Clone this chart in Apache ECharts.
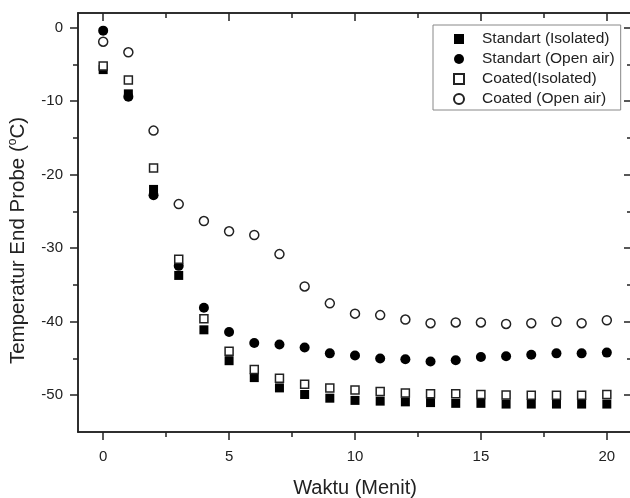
<!DOCTYPE html>
<html>
<head>
<meta charset="utf-8">
<script src="https://cdn.jsdelivr.net/npm/echarts@6/dist/echarts.min.js"></script>
<style>
  html, body { margin: 0; padding: 0; background: #fff; }
  #chart { width: 630px; height: 498px; }
</style>
</head>
<body>
<div id="chart"></div>
<script>
// time (minutes)
const waktu = [0, 1, 2, 3, 4, 5, 6, 7, 8, 9, 10, 11, 12, 13, 14, 15, 16, 17, 18, 19, 20];

const standartIsolated = [-5.7, -9.0, -22.0, -33.7, -41.1, -45.3, -47.6, -49.0, -49.9, -50.4, -50.7, -50.8, -50.9, -51.0, -51.1, -51.1, -51.2, -51.2, -51.2, -51.2, -51.2];
const standartOpenAir = [-0.4, -9.4, -22.8, -32.4, -38.1, -41.4, -42.9, -43.1, -43.5, -44.3, -44.6, -45.0, -45.1, -45.4, -45.25, -44.8, -44.7, -44.5, -44.3, -44.3, -44.2];
const coatedIsolated = [-5.2, -7.1, -19.1, -31.5, -39.6, -44.0, -46.5, -47.7, -48.5, -49.0, -49.3, -49.5, -49.7, -49.8, -49.8, -49.9, -49.95, -50.0, -50.0, -50.0, -49.9];
const coatedOpenAir = [-1.9, -3.35, -14.0, -24.0, -26.3, -27.7, -28.2, -30.8, -35.2, -37.5, -38.9, -39.1, -39.7, -40.2, -40.1, -40.1, -40.3, -40.2, -40.0, -40.2, -39.8];

const xMajor = [0, 5, 10, 15, 20];
const xMinor = [2.5, 7.5, 12.5, 17.5];
const yMajor = [-50, -40, -30, -20, -10, 0];
const yMinor = [-45, -35, -25, -15, -5];

const FONT = 'Liberation Sans, Arial, sans-serif';
const INK = '#222';
const line = { color: INK, width: 1.5 };

const pairs = ys => waktu.map((x, i) => [x, ys[i]]);

function xAx(pos, ticks, len, inside, extra) {
  return Object.assign({
    type: 'value', position: pos, min: -1, max: 21,
    axisLine: { show: true, onZero: false, lineStyle: line },
    axisTick: { show: true, inside: inside, length: len, customValues: ticks, lineStyle: line },
    axisLabel: { show: false },
    splitLine: { show: false }
  }, extra || {});
}
function yAx(pos, ticks, len, inside, extra) {
  return Object.assign({
    type: 'value', position: pos, min: -55, max: 2,
    axisLine: { show: true, onZero: false, lineStyle: line },
    axisTick: { show: true, inside: inside, length: len, customValues: ticks, lineStyle: line },
    axisLabel: { show: false },
    splitLine: { show: false }
  }, extra || {});
}

const chart = echarts.init(document.getElementById('chart'));
chart.setOption({
  animation: false,
  backgroundColor: '#fff',
  textStyle: { fontFamily: FONT },
  grid: { left: 78, top: 13, right: -2, bottom: 66, containLabel: false, outerBoundsMode: 'none' },
  legend: {
    left: 433, top: 25, orient: 'vertical',
    selectedMode: false,
    itemWidth: 10, itemHeight: 10, itemGap: 4,
    padding: [6, 6, 3, 20],
    borderColor: '#888', borderWidth: 1,
    backgroundColor: '#fff',
    textStyle: { fontSize: 15.5, color: INK, fontFamily: FONT, lineHeight: 14, padding: [0, 0, 0, 13] },
    data: ['Standart (Isolated)', 'Standart (Open air)', 'Coated(Isolated)', 'Coated (Open air)']
  },
  xAxis: [
    xAx('bottom', xMajor, 8, false, {
      axisLabel: { show: true, customValues: xMajor, margin: 17, fontSize: 15, color: INK, fontFamily: FONT },
      name: 'Waktu (Menit)', nameLocation: 'middle', nameGap: 46,
      nameTextStyle: { fontSize: 20, color: INK, fontFamily: FONT }
    }),
    xAx('bottom', xMinor, 5, false),
    xAx('top', xMajor, 8, true),
    xAx('top', xMinor, 5, true)
  ],
  yAxis: [
    yAx('left', yMajor, 8, false, {
      axisLabel: { show: true, customValues: yMajor, margin: 15, fontSize: 15, color: INK, fontFamily: FONT },
      name: '{a|Temperatur End Probe (}{s|o}{a|C)}', nameLocation: 'middle', nameGap: 49,
      nameTextStyle: {
        padding: [0, 36, 0, 0],
        rich: {
          a: { fontSize: 20.5, color: INK, fontFamily: FONT, lineHeight: 22 },
          s: { fontSize: 12, color: INK, fontFamily: FONT, verticalAlign: 'top', lineHeight: 22 }
        }
      }
    }),
    yAx('left', yMinor, 5, false),
    yAx('right', yMajor, 8, true),
    yAx('right', yMinor, 5, true)
  ],
  series: [
    {
      name: 'Standart (Isolated)', type: 'scatter', symbol: 'square', symbolSize: 9,
      itemStyle: { color: '#000', opacity: 1 }, data: pairs(standartIsolated)
    },
    {
      name: 'Standart (Open air)', type: 'scatter', symbol: 'circle', symbolSize: 10,
      itemStyle: { color: '#000', opacity: 1 }, data: pairs(standartOpenAir)
    },
    {
      name: 'Coated(Isolated)', type: 'scatter', symbol: 'square', symbolSize: 8,
      itemStyle: { color: '#fff', borderColor: '#222', borderWidth: 1.5, opacity: 1 }, data: pairs(coatedIsolated)
    },
    {
      name: 'Coated (Open air)', type: 'scatter', symbol: 'circle', symbolSize: 9,
      itemStyle: { color: '#fff', borderColor: '#222', borderWidth: 1.5, opacity: 1 }, data: pairs(coatedOpenAir)
    }
  ]
});
</script>
</body>
</html>
